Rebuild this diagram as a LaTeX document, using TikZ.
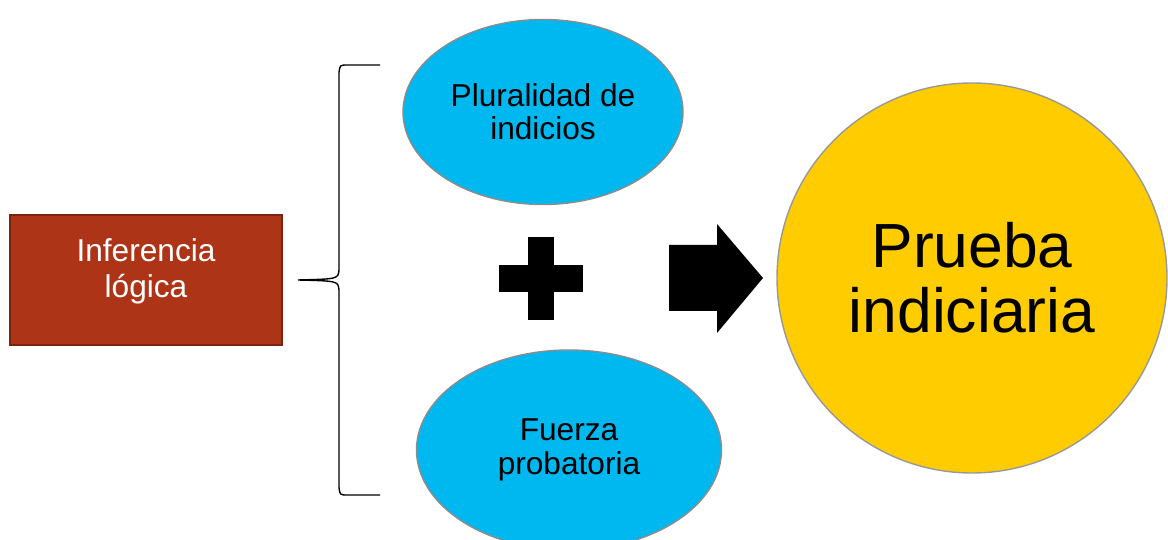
\documentclass[tikz,border=0pt]{standalone}
\usepackage{fontspec}
\setmainfont{Liberation Sans}
\usepackage{tikz}
\usetikzlibrary{positioning}
\usetikzlibrary{shapes}
\definecolor{ladrillo}{RGB}{174,52,23}
\definecolor{celeste}{RGB}{0,184,240}
\definecolor{oro}{RGB}{255,204,0}
\tikzset{caja/.style={rectangle, fill=ladrillo, draw=ladrillo!70!black, line width=0.8pt, minimum width=5.44cm, minimum height=2.6cm, text=white, align=center, font=\fontsize{18}{20.5}\selectfont}}
\tikzset{elipse/.style={ellipse, fill=celeste, draw=black!45, line width=0.8pt, inner sep=0pt, align=center, font=\fontsize{18}{19}\selectfont}}
\tikzset{moneda/.style={circle, fill=oro, draw=black!40, line width=0.8pt, minimum size=7.8cm, inner sep=0pt, align=center, font=\fontsize{35.5}{37}\selectfont}}

\begin{document}
\begin{tikzpicture}
\useasboundingbox (0,0) rectangle (23.36,10.8);
\clip (0,0) rectangle (23.36,10.8);
\node[caja, text depth=13.5pt] (inferencia) at (2.92,5.2) {Inferencia\\lógica};
\node[elipse, minimum width=5.6cm, minimum height=3.7cm] (pluralidad) at (10.86,8.56) {Pluralidad de\\indicios};
\node[elipse, minimum width=6.1cm, minimum height=4cm] (fuerza) at (11.38,1.8) {Fuerza\\probatoria};
\node[moneda] (prueba) at (19.44,5.24) {Prueba\\indiciaria};
% llave
\draw[line width=0.8pt] (7.6,9.5) -- (6.95,9.5) .. controls (6.8,9.5) .. (6.78,9.35) -- (6.78,5.4)
  .. controls (6.76,5.22) .. (5.96,5.2) .. controls (6.76,5.18) .. (6.78,5.0) -- (6.78,1.05)
  .. controls (6.8,0.9) .. (6.95,0.9) -- (7.6,0.9);
% signo mas
\fill (10.56,4.4) rectangle (11.08,6.06);
\fill (9.98,4.96) rectangle (11.66,5.5);
% flecha
\fill (13.38,4.58) -- (14.34,4.58) -- (14.34,4.14) -- (15.26,5.24) -- (14.34,6.32) -- (14.34,5.9) -- (13.38,5.9) -- cycle;
\end{tikzpicture}
\end{document}
